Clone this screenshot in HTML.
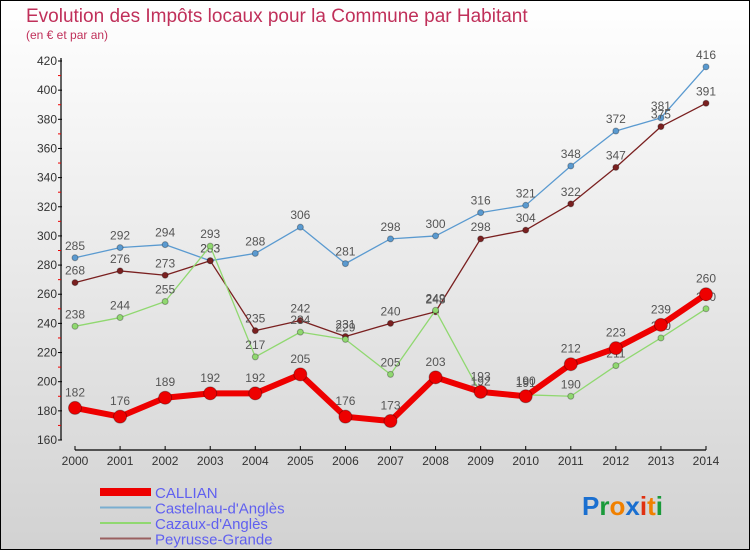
<!DOCTYPE html>
<html><head><meta charset="utf-8"><style>
html,body{margin:0;padding:0}
body{width:750px;height:550px;overflow:hidden;font-family:"Liberation Sans",sans-serif}
</style></head><body>
<svg id="chart" width="750" height="550" xmlns="http://www.w3.org/2000/svg">
<defs><linearGradient id="bg" x1="0" y1="0" x2="0" y2="1"><stop offset="0" stop-color="#ffffff"/><stop offset="1" stop-color="#d2d2d2"/></linearGradient></defs>
<rect x="0.5" y="0.5" width="749" height="549" fill="url(#bg)" stroke="#000"/>
<text x="26" y="22" font-size="19" fill="#c0305a">Evolution des Impôts locaux pour la Commune par Habitant</text>
<text x="26" y="39" font-size="12" fill="#c0305a">(en € et par an)</text>
<g id="axes"></g>
<g id="series"></g>
<g id="legend"></g>
<text x="582" y="515" font-size="26" font-weight="bold" fill="#1a6fd0">P<tspan fill="#1a9a3a">r</tspan><tspan fill="#f08000">o</tspan><tspan fill="#1a6fd0">x</tspan><tspan fill="#e03010">i</tspan><tspan fill="#f08000">t</tspan><tspan fill="#1a9a3a">i</tspan></text>
</svg>
<script>
const years = [2000,2001,2002,2003,2004,2005,2006,2007,2008,2009,2010,2011,2012,2013,2014];
const yTicks = [160,180,200,220,240,260,280,300,320,340,360,380,400,420];
const callian = [182,176,189,192,192,205,176,173,203,193,190,212,223,239,260];
const castelnau = [285,292,294,283,288,306,281,298,300,316,321,348,372,381,416];
const cazaux = [238,244,255,293,217,234,229,205,249,192,191,190,211,230,250];
const peyrusse = [268,276,273,283,235,242,231,240,248,298,304,322,347,375,391];
const NS="http://www.w3.org/2000/svg";
function xs(i){return 75+i*(706-75)/(years.length-1);}
function ys(v){return 440-(v-160)*(440-61)/(420-160);}
function mk(tag,attrs,parent){const e=document.createElementNS(NS,tag);for(const k in attrs)e.setAttribute(k,attrs[k]);parent.appendChild(e);return e;}
const axes=document.getElementById('axes');
let a=mk('line',{x1:61,y1:58,x2:61,y2:440,stroke:'#000','stroke-width':1.2},axes);


a=mk('line',{x1:75,y1:450,x2:706,y2:450,stroke:'#000','stroke-width':1.2},axes);


yTicks.forEach((v,i)=>{
  mk('line',{x1:58,y1:ys(v),x2:62,y2:ys(v),stroke:'#000'},axes);
  if(i<yTicks.length-1) mk('line',{x1:58,y1:ys(v+10),x2:61,y2:ys(v+10),stroke:'#e00'},axes);
  const t=mk('text',{x:57,y:ys(v)+4,'font-size':12,'text-anchor':'end',fill:'#333'},axes);
  t.textContent=v;
  
  
});
years.forEach((y,i)=>{
  mk('line',{x1:xs(i),y1:446,x2:xs(i),y2:450,stroke:'#000'},axes);
  const t=mk('text',{x:xs(i),y:465,'font-size':12,'text-anchor':'middle',fill:'#333'},axes);
  t.textContent=y;
  
  
});
const ser=document.getElementById('series');
function draw(vals,name,color,w,r){
  const g=mk('g',{},ser);
  
  
  const l=mk('polyline',{points:vals.map((v,i)=>xs(i)+','+ys(v)).join(' '),fill:'none',stroke:color,'stroke-width':w,'stroke-linejoin':'round'},g);
  
  
  vals.forEach((v,i)=>{
    const c=mk('circle',{cx:xs(i),cy:ys(v),r:r,fill:color,stroke:'rgba(0,0,0,0.3)'},g);
    
    
    const t=mk('text',{x:xs(i),y:ys(v)-(r+5),'font-size':12,'text-anchor':'middle',fill:'#555'},g);
    t.textContent=v;
    
    
  });
}
draw(castelnau,'castelnau','#5a9ad0',1.3,3);
draw(peyrusse,'peyrusse','#7a2020',1.3,3);
draw(cazaux,'cazaux','#90d870',1.3,3);
draw(callian,'callian','#ee0000',6,6.5);
const leg=document.getElementById('legend');
[['CALLIAN','#ee0000',8],['Castelnau-d\'Anglès','#7aaed0',2],['Cazaux-d\'Anglès','#90d870',2],['Peyrusse-Grande','#9a6060',2]].forEach((e,i)=>{
  const y=492+i*15.5;
  const l=mk('line',{x1:100,y1:y,x2:151,y2:y,stroke:e[1],'stroke-width':e[2]},leg);
  
  
  const t=mk('text',{x:155,y:y+6,'font-size':15,fill:'#6060f0'},leg);
  t.textContent=e[0];
  
  
});
</script>
</body></html>
